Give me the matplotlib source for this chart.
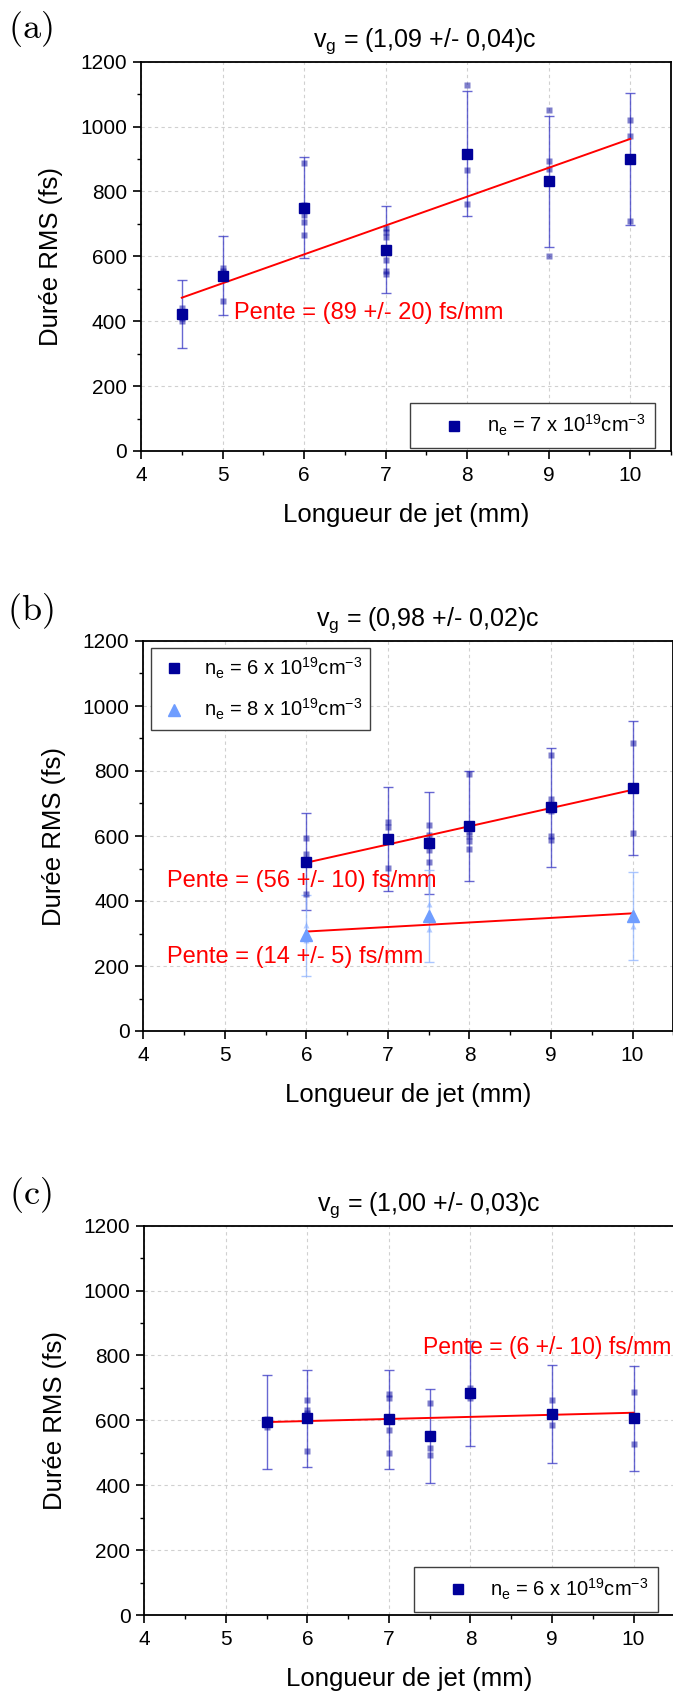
import numpy as np
import matplotlib.pyplot as plt
from matplotlib.ticker import MultipleLocator

plt.rcParams['font.family'] = ['Liberation Sans', 'DejaVu Sans']
plt.rcParams['mathtext.default'] = 'regular'

# ---- panel (a) : ne = 7e19
xa = [4.5, 5, 6, 7, 8, 9, 10]
ya = [421, 540, 750, 621, 917, 832, 900]
ea = [105, 122, 155, 135, 192, 202, 202]
raw_a = [[440, 425, 410, 400], [565, 555, 540, 462], [888, 758, 745, 729, 707, 665],
         [686, 676, 661, 590, 555, 545], [1128, 865, 760], [1051, 895, 868, 600],
         [1020, 972, 710]]
fit_a = (89, 72)          # slope, intercept

# ---- panel (b) : ne = 6e19 (squares) and 8e19 (triangles)
xb1 = [6, 7, 7.5, 8, 9, 10]
yb1 = [521, 590, 578, 631, 688, 748]
eb1 = [150, 160, 157, 170, 182, 207]
raw_b1 = [[595, 546, 422], [643, 627, 503], [633, 604, 556, 519],
          [791, 614, 599, 586, 559], [849, 715, 676, 599, 587], [887, 610]]
fit_b1 = (56, 182)

xb2 = [6, 7.5, 10]
yb2 = [294, 354, 354]
eb2 = [124, 141, 136]
raw_b2 = [[325, 285, 280], [390, 313], [365, 322]]
fit_b2 = (14, 222)

# ---- panel (c) : ne = 6e19
xc = [5.5, 6, 7, 7.5, 8, 9, 10]
yc = [594, 606, 603, 553, 683, 619, 607]
ec = [145, 150, 152, 145, 161, 151, 162]
raw_c = [[605, 598, 578], [662, 632, 623, 506], [681, 668, 570, 499],
         [653, 515, 493], [700, 670], [662, 585], [687, 527]]
fit_c = (6.4, 559.5)

titles = ['$v_g$ = (1,09 +/- 0,04)c', '$v_g$ = (0,98 +/- 0,02)c', '$v_g$ = (1,00 +/- 0,03)c']
labels = ['(a)', '(b)', '(c)']

NAVY = '#00009a'
BLUE_ERR = '#3535c4'
LIGHT = '#6f9dff'
LIGHT_ERR = '#8fb4ff'
RED = '#ff0000'

W, H = 673, 1694
fig = plt.figure(figsize=(W / 100, H / 100), dpi=100)


def make_axes(left, top, bottom):
    ax = fig.add_axes([left / W, 1 - bottom / H, 530 / W, (bottom - top) / H])
    ax.set_xlim(4, 10.5)
    ax.set_ylim(0, 1200)
    ax.xaxis.set_major_locator(MultipleLocator(1))
    ax.xaxis.set_minor_locator(MultipleLocator(0.5))
    ax.yaxis.set_major_locator(MultipleLocator(200))
    ax.yaxis.set_minor_locator(MultipleLocator(100))
    ax.tick_params(which='major', direction='out', length=5.5, width=1.2, labelsize=15)
    ax.tick_params(which='minor', direction='out', length=3, width=1.0)
    ax.tick_params(axis='x', pad=5.5)
    ax.tick_params(axis='y', pad=4.5)
    for s in ax.spines.values():
        s.set_linewidth(1.3)
    ax.grid(True, which='major', color='#d0d0d0', ls=(0, (3, 3)), lw=0.8)
    ax.set_axisbelow(True)
    ax.set_xlabel('Longueur de jet (mm)', fontsize=18.5)
    ax.xaxis.label.set_va('center')
    ax.xaxis.set_label_coords(0.5, -64 / 389)
    ax.set_ylabel('Durée RMS (fs)', fontsize=18.5)
    ax.yaxis.label.set_va('center')
    ax.yaxis.set_label_coords(-89.5 / 530, 0.5)
    return ax


def draw_series(ax, x, y, e, raw, marker, color, ecolor, ms, label):
    ax.errorbar(x, y, yerr=e, fmt='none', ecolor=ecolor, elinewidth=1.0,
                capsize=3.5, capthick=1.0, alpha=0.75, zorder=2)
    for xi, pts in zip(x, raw):
        ax.plot([xi] * len(pts), pts, ls='none', marker=marker, ms=3.8,
                color=color, alpha=0.5, mec='none', zorder=3)
    ax.plot(x, y, ls='none', marker=marker, ms=ms, color=color, mec=color,
            zorder=5, label=label)


def draw_fit(ax, fit, x0, x1):
    xs = np.array([x0, x1])
    ax.plot(xs, fit[0] * xs + fit[1], color=RED, lw=1.4, zorder=4)


def add_legend(ax, x0, top, hl, htp, bp):
    leg = ax.legend(loc='upper left', bbox_to_anchor=(x0, top), borderaxespad=0,
                    fontsize=14.5, frameon=True, fancybox=False, framealpha=1,
                    edgecolor='#404040', handlelength=hl, handletextpad=htp,
                    borderpad=bp, labelspacing=0.8, numpoints=1)
    leg.get_frame().set_linewidth(1.0)


ne = ['$n_e$ = 7 x 10$^{19}$cm$^{-3}$', '$n_e$ = 6 x 10$^{19}$cm$^{-3}$',
      '$n_e$ = 8 x 10$^{19}$cm$^{-3}$']

# (a)
ax1 = make_axes(141, 61.7, 451)
draw_series(ax1, xa, ya, ea, raw_a, 's', NAVY, BLUE_ERR, 7, ne[0])
draw_fit(ax1, fit_a, xa[0], xa[-1])
ax1.text(5.14, 424, 'Pente = (89 +/- 20) fs/mm', color=RED, fontsize=17, va='center')
add_legend(ax1, 0.5075, 0.123, 3.4, -0.1, 0.5)

# (b)
ax2 = make_axes(143.3, 641, 1031)
draw_series(ax2, xb1, yb1, eb1, raw_b1, 's', NAVY, BLUE_ERR, 7, ne[1])
draw_series(ax2, xb2, yb2, eb2, raw_b2, '^', LIGHT, LIGHT_ERR, 8.5, ne[2])
draw_fit(ax2, fit_b1, xb1[0], xb1[-1])
draw_fit(ax2, fit_b2, xb2[0], xb2[-1])
ax2.text(4.29, 460, 'Pente = (56 +/- 10) fs/mm', color=RED, fontsize=17, va='center')
ax2.text(4.29, 229, 'Pente = (14 +/- 5) fs/mm', color=RED, fontsize=17, va='center')
add_legend(ax2, 0.014, 0.983, 1.5, 0.73, 0.4)

# (c)
ax3 = make_axes(144.3, 1225.7, 1615)
draw_series(ax3, xc, yc, ec, raw_c, 's', NAVY, BLUE_ERR, 7, ne[1])
draw_fit(ax3, fit_c, xc[0], xc[-1])
ax3.text(10.46, 824, 'Pente = (6 +/- 10) fs/mm', color=RED, fontsize=16.5,
         va='center', ha='right')
add_legend(ax3, 0.508, 0.124, 3.4, -0.1, 0.5)

for ax, t, lab, ly in zip([ax1, ax2, ax3], titles, labels, [28.6, 611, 1195]):
    ax.text(0.536, 1 + 15 / 389, t, transform=ax.transAxes, ha='center',
            va='baseline', fontsize=18)
    fig.text(30 / W, 1 - ly / H, r'$\mathrm{' + lab + '}$', math_fontfamily='cm',
             fontsize=26, ha='center', va='center')

fig.savefig('out.png', dpi=100)
